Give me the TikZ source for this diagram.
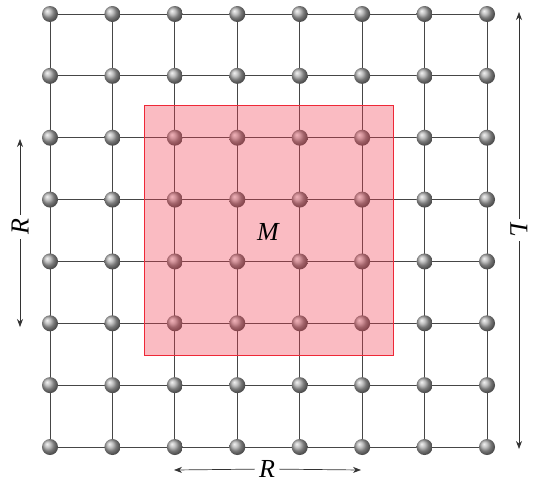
\documentclass[tikz,border=0pt]{standalone}
\usepackage{fontspec}
\setmainfont{Liberation Serif}
\usetikzlibrary{arrows.meta, calc}
\definecolor{regionred}{RGB}{240,60,80}
\definecolor{regionedge}{RGB}{238,40,55}
\definecolor{gridline}{RGB}{70,70,70}

\begin{document}
\begin{tikzpicture}[
    x=1pt, y=-1pt,
    atom/.style = {circle, inner sep=0pt, minimum size=16pt, ball color=gray!65!white},
    bond/.style = {draw=gridline, line width=1pt},
    dimarrow/.style = {draw=black!80, line width=0.7pt, -{Stealth[length=8pt,width=6pt]}},
    dimlabel/.style = {font=\fontsize{26}{26}\selectfont\itshape, inner sep=1pt}
]
\useasboundingbox (0,0) rectangle (537,482);

% Nodes
\foreach \i in {0,...,7}
  \foreach \j in {0,...,7}
    \coordinate (p-\i-\j) at ({50+62.43*\i},{14+61.86*\j});

% Connections
\foreach \k in {0,...,7} {
  \draw [bond] (p-0-\k) -- (p-7-\k);
  \draw [bond] (p-\k-0) -- (p-\k-7);
}

\foreach \i in {0,...,7}
  \foreach \j in {0,...,7}
    \node (n-\i-\j) [atom] at (p-\i-\j) {};

% Region
\node (m_box) [draw=regionedge, line width=1pt, fill=regionred, fill opacity=0.35, draw opacity=1,
    minimum width=249pt, minimum height=250pt, inner sep=0pt] at (268.5,230) {};
\node (m_lbl) [dimlabel] at (268,232) {M};

% Dimensions
\coordinate (r1_top) at (20,139);
\coordinate (r1_bot) at (20,327);
\node (r1_lbl) [dimlabel, rotate=90, inner xsep=4pt, inner ysep=0pt] at (20,227) {R};
\draw [dimarrow] (r1_lbl) -- (r1_top);
\draw [dimarrow] (r1_lbl) -- (r1_bot);

\coordinate (r2_left) at (174,470);
\coordinate (r2_right) at (361,470);
\node (r2_lbl) [dimlabel, inner xsep=4pt, inner ysep=0pt] at (267,469) {R};
\draw [dimarrow] (r2_lbl) -- (r2_left);
\draw [dimarrow] (r2_lbl) -- (r2_right);

\coordinate (l_top) at (519,12);
\coordinate (l_bot) at (519,449);
\node (l_lbl) [dimlabel, rotate=-90, inner xsep=4pt, inner ysep=0pt] at (519,230) {L};
\draw [dimarrow] (l_lbl) -- (l_top);
\draw [dimarrow] (l_lbl) -- (l_bot);

\end{tikzpicture}
\end{document}
